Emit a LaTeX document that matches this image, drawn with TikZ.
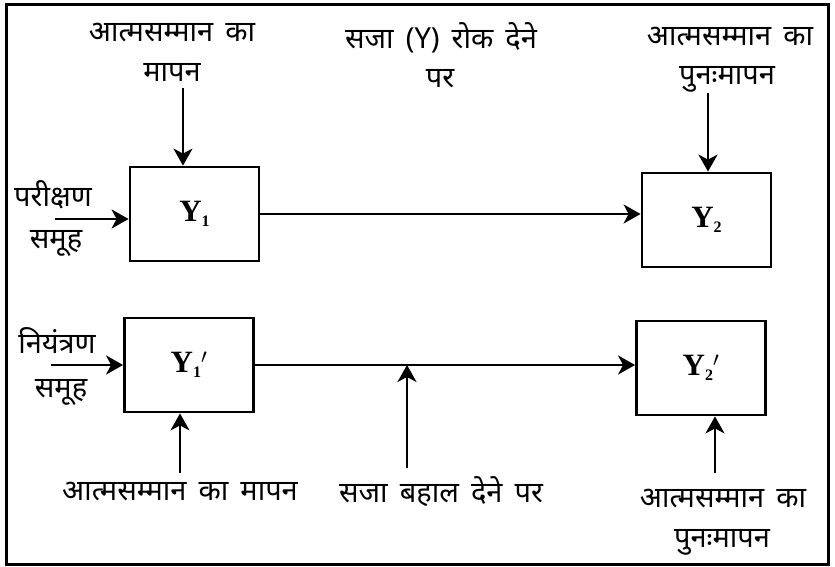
\documentclass[tikz,border=0pt]{standalone}
\usepackage{fontspec}
\setmainfont{Liberation Serif}
\newfontfamily\hindi[Script=Devanagari,WordSpace=1.6]{Noto Sans}
\usetikzlibrary{arrows.meta}
\newcommand{\ysub}[1]{Y\raisebox{-5pt}{\fontsize{16}{16}\selectfont #1}}
\begin{document}
\begin{tikzpicture}[x=1pt,y=-1pt,
  box/.style={draw,line width=2.8pt,minimum width=129pt,minimum height=94pt,inner sep=0pt,
    font=\fontsize{31}{32}\selectfont\bfseries},
  lbl/.style={inner sep=0pt,font=\hindi\fontsize{29}{32}\selectfont,align=center},
  arr/.style={line width=2.6pt,-{Stealth[length=17pt,width=19pt,inset=5pt]}}
]
\useasboundingbox (0,0) rectangle (835,567);
\draw[line width=3pt] (6,5) rectangle (828,564);

% boxes
\node[box] (Y1) at (194.5,214) {\ysub{1}};
\node[box] (Y2) at (706.5,220) {\ysub{2}};
\node[box] (Y1p) at (189,365) {\ysub{1}$'$};
\node[box] (Y2p) at (701,368) {\ysub{2}$'$};

% labels
\node[lbl] (t1a) at (172,33) {आत्मसम्मान का};
\node[lbl] (t1b) at (172,72) {मापन};
\node[lbl] (tma) at (441,38) {सजा (Y) रोक देने};
\node[lbl] (tmb) at (440,79) {पर};
\node[lbl] (t2a) at (730,37) {आत्मसम्मान का};
\node[lbl] (t2b) at (727,79) {पुनःमापन};
\node[lbl] (g1a) at (53,195) {परीक्षण};
\node[lbl] (g1b) at (56,243) {समूह};
\node[lbl] (g2a) at (57,341) {नियंत्रण};
\node[lbl] (g2b) at (61,392) {समूह};
\node[lbl] (b1) at (180,492) {आत्मसम्मान का मापन};
\node[lbl] (bm) at (441,492) {सजा बहाल देने पर};
\node[lbl] (b2a) at (723,499) {आत्मसम्मान का};
\node[lbl] (b2b) at (722,542) {पुनःमापन};

% coordinates for free ends
\coordinate (a1) at (183,88);
\coordinate (a2) at (708,93);
\coordinate (in1) at (55,219);
\coordinate (in2) at (51,365);
\coordinate (u1) at (180,473);
\coordinate (um) at (407,468);
\coordinate (u2) at (715,473);

% connectors
\draw[arr] (a1) -- (a1 |- Y1.north);
\draw[arr] (a2) -- (a2 |- Y2.north);
\draw[arr] (in1) -- (in1 -| Y1.west);
\draw[arr] (in2) -- (in2 -| Y1p.west);
\draw[arr] (Y1.east) -- (Y1.east -| Y2.west);
\draw[arr] (Y1p.east) -- (Y1p.east -| Y2p.west);
\draw[arr] (u1) -- (u1 |- Y1p.south);
\draw[arr] (um) -- (um |- Y1p.east);
\draw[arr] (u2) -- (u2 |- Y2p.south);
\end{tikzpicture}
\end{document}
